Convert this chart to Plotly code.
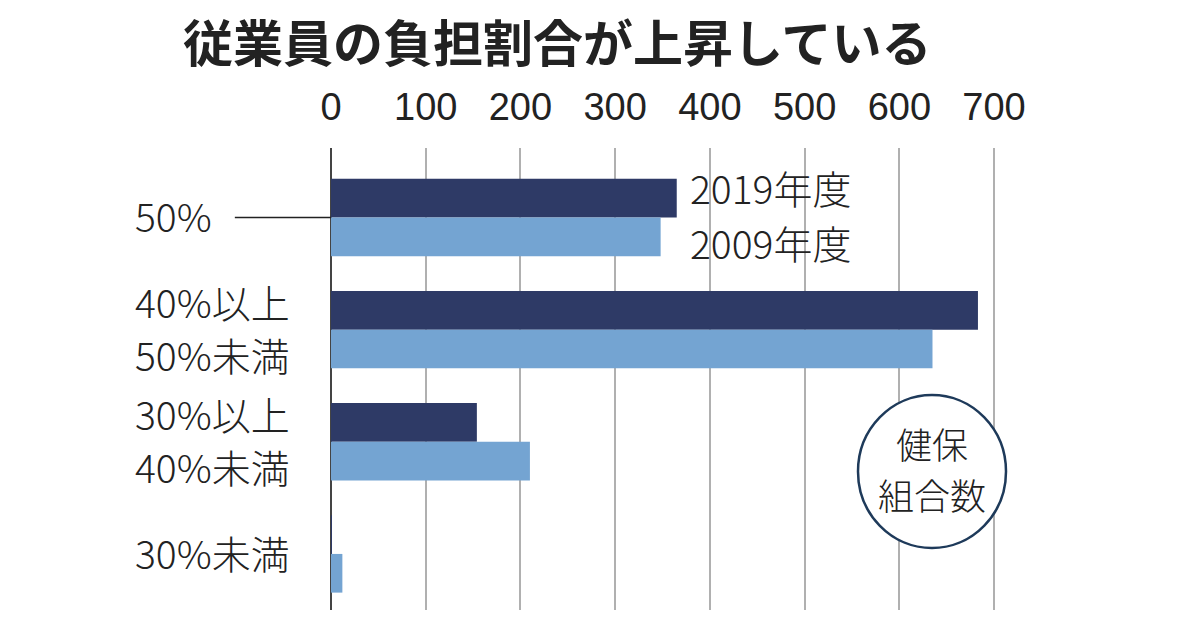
import plotly.graph_objects as go

# ---- data ----
categories = [["50%"], ["40%以上", "50%未満"], ["30%以上", "40%未満"], ["30%未満"]]
series_names = ["2019年度", "2009年度"]
values_2019 = [365, 683, 154, 1]
values_2009 = [348, 635, 210, 12]
tick_vals = [0, 100, 200, 300, 400, 500, 600, 700]
tick_text = ["0", "100", "200", "300", "400", "500", "600", "700"]
title_text = "従業員の負担割合が上昇している"
unit_lines = ["健保", "組合数"]

NAVY = "#2e3a66"
LIGHT = "#74a4d2"
CJK = "Noto Sans CJK JP"

ypos = list(range(len(categories)))

fig = go.Figure()
fig.add_trace(go.Bar(y=ypos, x=values_2019, orientation="h", name=series_names[0],
                     marker=dict(color=NAVY, line=dict(width=0))))
fig.add_trace(go.Bar(y=ypos, x=values_2009, orientation="h", name=series_names[1],
                     marker=dict(color=LIGHT, line=dict(width=0))))

fig.update_layout(
    width=1200, height=630,
    margin=dict(l=331, r=187, t=148, b=20),
    paper_bgcolor="white", plot_bgcolor="white",
    barmode="group", bargap=0.31, bargroupgap=0,
    showlegend=False,
    xaxis=dict(
        side="top", range=[0, 720], tickvals=tick_vals, ticktext=tick_text,
        ticks="outside", ticklen=12, tickcolor="rgba(0,0,0,0)",
        tickfont=dict(family="Liberation Sans, Arial, sans-serif", size=38, color="#222"),
        showgrid=True, gridcolor="#b0b0b0", gridwidth=1.5,
        zeroline=True, zerolinecolor="#444", zerolinewidth=2,
        showline=False, fixedrange=True,
    ),
    yaxis=dict(
        range=[3.5, -0.62], showticklabels=False, showgrid=False,
        zeroline=False, showline=False, ticks="",
    ),
)

LABEL_FONT = dict(family=CJK, size=39, color="#222", weight=300)

# category labels (one annotation per line)
for i, lines in enumerate(categories):
    if len(lines) == 1:
        offsets = [-0.02]
    else:
        offsets = [-0.26, 0.22]
    for line, off in zip(lines, offsets):
        fig.add_annotation(xref="paper", yref="y", x=-0.29, y=i + off, text=line,
                           xanchor="left", yanchor="middle", align="left", showarrow=False,
                           font=LABEL_FONT)

# leader line for 50%
fig.add_shape(type="line", xref="paper", yref="y", x0=-0.141, x1=0, y0=0, y1=0,
              line=dict(color="#222", width=1.5))

# series labels
fig.add_annotation(xref="x", yref="y", x=377, y=-0.27, text=series_names[0],
                   xanchor="left", yanchor="middle", showarrow=False, font=LABEL_FONT)
fig.add_annotation(xref="x", yref="y", x=377, y=0.22, text=series_names[1],
                   xanchor="left", yanchor="middle", showarrow=False, font=LABEL_FONT)

# unit circle
fig.add_shape(type="circle", xref="paper", yref="paper",
              x0=(858 - 331) / 682, x1=(1006 - 331) / 682,
              y0=(610 - 548) / 462, y1=(610 - 395) / 462,
              fillcolor="white", line=dict(color="#1e3a5a", width=2.5), layer="above")
for line, py in zip(unit_lines, [443, 494]):
    fig.add_annotation(xref="paper", yref="paper", x=(932 - 331) / 682, y=(610 - py) / 462,
                       text=line, showarrow=False, xanchor="center", yanchor="middle",
                       font=dict(family=CJK, size=36, color="#222", weight=300))

# title
fig.add_annotation(xref="paper", yref="paper", x=(557 - 331) / 682, y=(610 - 40) / 462,
                   text="<b>" + title_text + "</b>", showarrow=False,
                   xanchor="center", yanchor="middle",
                   font=dict(family=CJK, size=50, color="#222"))

fig.write_html("out.html")
